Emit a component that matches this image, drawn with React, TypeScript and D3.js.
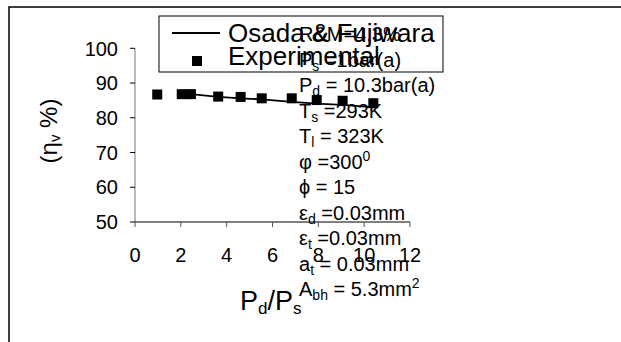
import React from 'react';
import * as d3 from 'd3';

// experimental points
const expX = [0.97, 2.04, 2.44, 3.63, 4.61, 5.53, 6.84, 7.93, 9.06, 10.4];
const expY = [86.7, 86.8, 86.8, 86.1, 86.0, 85.6, 85.6, 85.1, 84.9, 84.2];

// Osada & Fujiwara model
const modelX = [2.44, 3.63, 4.61, 5.53, 6.84, 7.93, 9.06, 10.45];
const modelY = [86.8, 86.0, 85.6, 85.3, 84.6, 84.1, 83.7, 83.0];

const xTicks = [0, 2, 4, 6, 8, 10, 12];
const yTicks = [50, 60, 70, 80, 90, 100];

// annotation lines: [main, sub, rest, sup]
const notes: [string, string, string, string][] = [
  ['R&M=4.3%', '', '', ''],
  ['P', 's', ' =1bar(a)', ''],
  ['P', 'd', ' = 10.3bar(a)', ''],
  ['T', 's', ' =293K', ''],
  ['T', 'l', ' = 323K', ''],
  ['φ =300', '', '', '0'],
  ['ϕ = 15', '', '', ''],
  ['ε', 'd', ' =0.03mm', ''],
  ['ε', 't', ' =0.03mm', ''],
  ['a', 't', ' = 0.03mm', ''],
  ['A', 'bh', ' = 5.3mm', '2'],
];

const font = 'Arial, "Liberation Sans", sans-serif';

export default function App() {
  const x = d3.scaleLinear().domain([0, 12]).range([135, 410]);
  const y = d3.scaleLinear().domain([50, 100]).range([222, 48.3]);

  const line = d3
    .line<number>()
    .x((d, i) => x(modelX[i]))
    .y(d => y(d));

  const noteTop = 41;
  const noteStep = 25.5;

  return (
    <svg
      width={621}
      height={342}
      style={{ position: 'absolute', left: 0, top: 0, background: '#fff', fontFamily: font, overflow: 'hidden' }}
    >
      {/* outer frame, right and bottom edges fall outside the page */}
      <path d="M9,400 V7 H700" fill="none" stroke="#000" strokeWidth={1.5} />

      {/* y axis */}
      <line x1={x(0)} x2={x(0)} y1={y(100)} y2={y(50)} stroke="#777" strokeWidth={1} />
      {yTicks.map(t => (
        <g key={t}>
          <line x1={x(0) - 5} x2={x(0)} y1={y(t)} y2={y(t)} stroke="#000" />
          <text x={118} y={y(t)} dy="0.36em" textAnchor="end" fontSize={20} fill="#000">
            {t}
          </text>
        </g>
      ))}

      {/* x axis */}
      <line x1={x(0)} x2={x(12)} y1={y(50)} y2={y(50)} stroke="#000" strokeWidth={1.2} />
      {xTicks.map(t => (
        <g key={t}>
          <line x1={x(t)} x2={x(t)} y1={y(50)} y2={y(50) + 5} stroke="#555" />
          <text x={x(t)} y={262} textAnchor="middle" fontSize={20} fill="#000">
            {t}
          </text>
        </g>
      ))}

      {/* axis titles */}
      <text x={240} y={310} fontSize={27} fill="#000">
        P<tspan fontSize={17} dy={4}>d</tspan>
        <tspan dy={-4}>/P</tspan>
        <tspan fontSize={17} dy={4}>s</tspan>
      </text>
      <text
        transform="translate(57,131) rotate(-90)"
        textAnchor="middle"
        fontSize={24}
        fill="#000"
      >
        (η<tspan fontSize={15} dy={3}>v</tspan>
        <tspan dy={-3}> %)</tspan>
      </text>

      {/* model line */}
      <path d={line(modelY) || ''} fill="none" stroke="#000" strokeWidth={1.8} />

      {/* experimental markers */}
      {expX.map((v, i) => (
        <rect key={i} x={x(v) - 5} y={y(expY[i]) - 5} width={10} height={10} fill="#000" />
      ))}

      {/* legend */}
      <rect x={159} y={16} width={284} height={56} fill="#fff" stroke="#000" strokeWidth={1} />
      <line x1={172} x2={220} y1={33} y2={33} stroke="#000" strokeWidth={1.8} />
      <text x={228} y={42} fontSize={26} fill="#000">Osada &amp; Fujiwara</text>
      <rect x={192} y={56} width={10} height={10} fill="#000" />
      <text x={228} y={65} fontSize={26} fill="#000">Experimental</text>

      {/* annotations */}
      {notes.map(([m, sub, rest, sup], i) => (
        <text key={i} x={299} y={noteTop + i * noteStep} fontSize={20} fill="#000">
          {m}
          {sub && (
            <tspan fontSize={14} dy={4}>
              {sub}
            </tspan>
          )}
          {rest && <tspan dy={sub ? -4 : 0}>{rest}</tspan>}
          {sup && (
            <tspan fontSize={14} dy={-8}>
              {sup}
            </tspan>
          )}
        </text>
      ))}
    </svg>
  );
}
